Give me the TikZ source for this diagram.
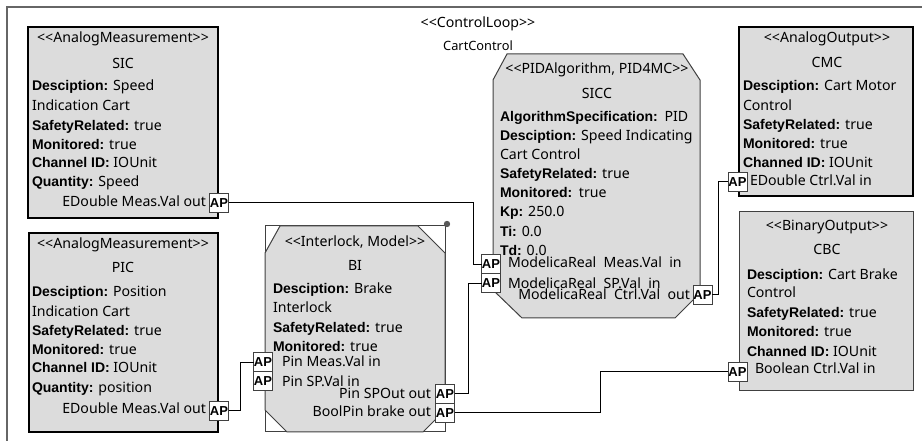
\documentclass[tikz,border=0pt]{standalone}
\usepackage{fontspec}
\setmainfont{Noto Sans}
\newfontfamily\labfont{Liberation Sans}
\definecolor{boxgray}{HTML}{DCDCDC}
\definecolor{edgegray}{HTML}{404040}
\definecolor{framegray}{HTML}{666666}
\newcommand\regsize{\fontsize{10.6pt}{13pt}\selectfont}
\newcommand\fl[1]{{\labfont\bfseries\fontsize{10.5pt}{12pt}\selectfont #1}}
\newcommand\stereo[1]{<{}<#1>{}>}
\begin{document}
\begin{tikzpicture}[x=0.75pt,y=-0.75pt,
  every node/.style={inner sep=0pt,outer sep=0pt},
  txt/.style={anchor=base west,font=\regsize},
  ctr/.style={anchor=base,font=\regsize},
  rtxt/.style={anchor=base east,font=\regsize},
  heavybox/.style={draw=black,fill=boxgray,line width=1.9pt},
  lightbox/.style={draw=edgegray,fill=boxgray,line width=0.75pt},
  ap/.style={draw=edgegray,fill=white,line width=0.75pt,minimum width=14.25pt,
    minimum height=14.25pt,font=\labfont\bfseries\fontsize{9.75pt}{10pt}\selectfont},
  wire/.style={draw=black,line width=0.75pt}]
\useasboundingbox (0,0) rectangle (922,441);

% outer diagram frame (top and left edges)
\draw[framegray,line width=0.9pt] (7,441) -- (7,7) -- (922,7);

% control loop header
\node[ctr] (loopst) at (478,28) {\stereo{ControlLoop}};
\node[anchor=base,font=\fontsize{9.6pt}{12pt}\selectfont] (loopname) at (478,51) {CartControl};

% ---- SIC ----
\node[heavybox,minimum width=142.5pt,minimum height=143.25pt] (sic) at (123,122.5) {};
\node[ctr] (sic1) at (123,43) {\stereo{AnalogMeasurement}};
\node[ctr] (sic2) at (123,69) {SIC};
\node[txt] (sic3) at (32,91) {\fl{Desciption:} Speed};
\node[txt] (sic4) at (32,111) {Indication Cart};
\node[txt] (sic5) at (32,131) {\fl{SafetyRelated:} true};
\node[txt] (sic6) at (32,150) {\fl{Monitored:} true};
\node[txt] (sic7) at (32,168) {\fl{Channel ID:} IOUnit};
\node[txt] (sic8) at (32,187) {\fl{Quantity:} Speed};
\node[rtxt] (sic9) at (206,207) {EDouble Meas.Val out};
\node[ap] (sicAP) at (219,203) {AP};

% ---- PIC ----
\node[heavybox,minimum width=141.75pt,minimum height=149.25pt] (pic) at (123.5,332.5) {};
\node[ctr] (pic1) at (123,249) {\stereo{AnalogMeasurement}};
\node[ctr] (pic2) at (123,273) {PIC};
\node[txt] (pic3) at (32,297) {\fl{Desciption:} Position};
\node[txt] (pic4) at (32,317) {Indication Cart};
\node[txt] (pic5) at (32,336) {\fl{SafetyRelated:} true};
\node[txt] (pic6) at (32,355) {\fl{Monitored:} true};
\node[txt] (pic7) at (32,373) {\fl{Channel ID:} IOUnit};
\node[txt] (pic8) at (32,393) {\fl{Quantity:} position};
\node[rtxt] (pic9) at (206,414) {EDouble Meas.Val out};
\node[ap] (picAP) at (219,411) {AP};

% ---- BI (interlock) ----
\draw[edgegray,line width=0.75pt] (265,226) rectangle (445,432);
\filldraw[fill=boxgray,draw=edgegray,line width=0.75pt]
  (280,226) -- (418,226) -- (445,253) -- (445,410) -- (423,432)
  -- (287,432) -- (265,410) -- (265,253) -- cycle;
\fill[gray!70!black] (447,224) circle (3.2);
\node[ctr] (bi1) at (355,247) {\stereo{Interlock, Model}};
\node[ctr] (bi2) at (355,271) {BI};
\node[txt] (bi3) at (273,294) {\fl{Desciption:} Brake};
\node[txt] (bi4) at (273,313) {Interlock};
\node[txt] (bi5) at (273,333) {\fl{SafetyRelated:} true};
\node[txt] (bi6) at (273,352) {\fl{Monitored:} true};
\node[txt] (bi7) at (282,367) {Pin Meas.Val in};
\node[txt] (bi8) at (282,387) {Pin SP.Val in};
\node[rtxt] (bi9) at (431,399) {Pin SPOut out};
\node[rtxt] (bi10) at (431,417) {BoolPin brake out};
\node[ap] (biAP1) at (263,362.5) {AP};
\node[ap] (biAP2) at (263,381.5) {AP};
\node[ap] (biAP3) at (445,394) {AP};
\node[ap] (biAP4) at (445,413) {AP};

% ---- SICC (PID algorithm) ----
\filldraw[fill=boxgray,draw=edgegray,line width=0.75pt]
  (507,54) -- (683,54) -- (700,80) -- (700,293) -- (675,318)
  -- (522,318) -- (493,290) -- (493,80) -- cycle;
\node[ctr] (sicc1) at (597,74) {\stereo{PIDAlgorithm, PID4MC}};
\node[ctr] (sicc2) at (597,99) {SICC};
\node[txt] (sicc3) at (500,122) {\fl{AlgorithmSpecification:}\hspace{5pt}PID};
\node[txt] (sicc4) at (500,141) {\fl{Desciption:} Speed Indicating};
\node[txt] (sicc5) at (500,160) {Cart Control};
\node[txt] (sicc6) at (500,179) {\fl{SafetyRelated:} true};
\node[txt] (sicc7) at (500,198) {\fl{Monitored:}\hspace{5pt}true};
\node[txt] (sicc8) at (500,217) {\fl{Kp:} 250.0};
\node[txt] (sicc9) at (500,237) {\fl{Ti:} 0.0};
\node[txt] (sicc10) at (500,256) {\fl{Td:} 0.0};
\node[txt] (sicc11) at (508,268) {ModelicaReal\ \ Meas.Val\ \ in};
\node[txt] (sicc12) at (508,289) {ModelicaReal\ \ SP.Val\ \ in};
\node[rtxt] (sicc13) at (690,300) {ModelicaReal\ \ Ctrl.Val\ \ out};
\node[ap] (siccAP1) at (491,264.5) {AP};
\node[ap] (siccAP2) at (491,283.5) {AP};
\node[ap] (siccAP3) at (702.5,295) {AP};

% ---- CMC ----
\node[heavybox,minimum width=130.5pt,minimum height=126.75pt] (cmc) at (826,111.5) {};
\node[ctr] (cmc1) at (827,43) {\stereo{AnalogOutput}};
\node[ctr] (cmc2) at (827,68) {CMC};
\node[txt] (cmc3) at (743,91) {\fl{Desciption:} Cart Motor};
\node[txt] (cmc4) at (743,111) {Control};
\node[txt] (cmc5) at (743,130) {\fl{SafetyRelated:} true};
\node[txt] (cmc6) at (743,149) {\fl{Monitored:} true};
\node[txt] (cmc7) at (743,168) {\fl{Channed ID:} IOUnit};
\node[txt] (cmc8) at (750,186) {EDouble Ctrl.Val in};
\node[ap] (cmcAP) at (737.5,182) {AP};

% ---- CBC ----
\node[lightbox,minimum width=130.5pt,minimum height=134.25pt] (cbc) at (826,301.5) {};
\node[ctr] (cbc1) at (827,231) {\stereo{BinaryOutput}};
\node[ctr] (cbc2) at (827,255) {CBC};
\node[txt] (cbc3) at (747,280) {\fl{Desciption:} Cart Brake};
\node[txt] (cbc4) at (747,298) {Control};
\node[txt] (cbc5) at (747,318) {\fl{SafetyRelated:} true};
\node[txt] (cbc6) at (747,337) {\fl{Monitored:} true};
\node[txt] (cbc7) at (747,357) {\fl{Channed ID:} IOUnit};
\node[txt] (cbc8) at (755,374) {Boolean Ctrl.Val in};
\node[ap] (cbcAP) at (737.5,372) {AP};

% ---- connectors ----
\coordinate (j1) at (473,0);
\coordinate (j2) at (468,0);
\coordinate (j3) at (600,0);
\coordinate (j4) at (240,0);
\coordinate (j5) at (718,0);
\draw[wire] (sicAP.east) -- (sicAP.east -| j1) |- (siccAP1.west);
\draw[wire] (biAP3.east) -- (biAP3.east -| j2) |- (siccAP2.west);
\draw[wire] (biAP4.east) -- (biAP4.east -| j3) |- (cbcAP.west);
\draw[wire] (picAP.east) -- (picAP.east -| j4) |- (biAP1.west);
\draw[wire] (siccAP3.east) -- (siccAP3.east -| j5) |- (cmcAP.west);
\end{tikzpicture}
\end{document}
